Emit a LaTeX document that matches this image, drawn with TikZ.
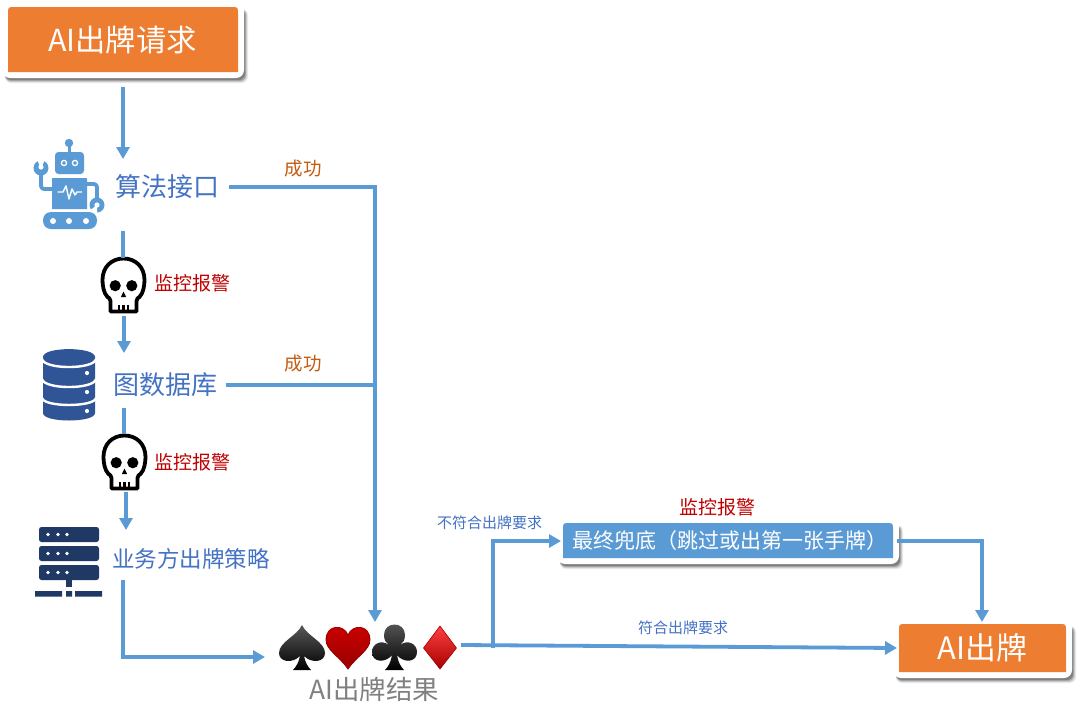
\documentclass[tikz,border=0pt]{standalone}
\usepackage{fontspec}
\setmainfont{Noto Sans CJK SC}
\usetikzlibrary{arrows.meta}
\definecolor{flowblue}{HTML}{5B9BD5}
\definecolor{txtblue}{HTML}{4472C4}
\definecolor{alarmred}{HTML}{C00000}
\definecolor{okorange}{HTML}{C55A11}
\definecolor{boxorange}{HTML}{ED7D31}
\definecolor{dbblue}{HTML}{2F5597}
\definecolor{srvblue}{HTML}{1F3864}
\newcommand{\cardbase}[5]{%
  \foreach \s/\o in {4/0.08,3/0.12,2/0.18,1/0.24}{
    \fill[black,opacity=\o,rounded corners=6] (#1-3,#2+2) rectangle (#3+7+\s-1,#4+7+\s);
  }
  \fill[white,rounded corners=8] (#1-6,#2-6) rectangle (#3+6,#4+6);
  \fill[#5] (#1,#4) -- (#3,#4) -- (#3,#2+7) .. controls (#3,#2) .. (#3-7,#2)
     -- (#1+7,#2) .. controls (#1,#2) .. (#1,#2+7) -- cycle;
}
\tikzset{
  x=1pt,y=-1pt,
  flow/.style={draw=flowblue,line width=3.8pt},
  flowarrow/.style={flow,-{Triangle[width=13pt,length=12pt]}},
  lbl/.style={inner sep=0pt,font=\fontsize{#1}{#1}\selectfont},
  stage/.style={lbl=#1,text=txtblue},
  alarm/.style={lbl=19,text=alarmred},
  okay/.style={lbl=18.5,text=okorange},
  skullpic/.pic={
    \path[draw=black,fill=white,line width=3.8pt,line join=round]
      (-13,26.5) -- (-13,16) .. controls (-13,13) and (-15,13) .. (-16,12)
      .. controls (-20,8) and (-21,0) .. (-21,-5)
      .. controls (-21,-18) and (-12,-26.5) .. (0,-26.5)
      .. controls (12,-26.5) and (21,-18) .. (21,-5)
      .. controls (21,0) and (20,8) .. (16,12)
      .. controls (15,13) and (13,13) .. (13,16) -- (13,26.5) -- cycle;
    \fill[black] (-8.3,0.7) circle (5.6) (8.3,0.7) circle (5.6);
    \fill[black] (0,6.5) -- (2.6,12) -- (-2.6,12) -- cycle;
    \draw[black,line width=2.2pt] (-4.5,20) -- (-4.5,27) (0,20) -- (0,27) (4.5,20) -- (4.5,27);
  },
}
\begin{document}
\begin{tikzpicture}
\useasboundingbox (0,0) rectangle (1080,705);
\fill[white] (0,0) rectangle (1080,705);

% boxes
\cardbase{8}{7}{238}{72}{boxorange}
\cardbase{563}{523}{893}{558}{flowblue}
\cardbase{899}{624}{1066}{672}{boxorange}
\node[lbl=30.3,text=white] (req) at (122.5,40) {AI出牌请求};
\node[lbl=21,text=white,anchor=west] (fallback) at (572,541) {最终兜底（跳过或出第一张手牌）};
\node[lbl=30.8,text=white] (play) at (982.5,648) {AI出牌};

% labels
\node[stage=26] (algo) at (167,187) {算法接口};
\node[stage=26] (graph) at (165,385) {图数据库};
\node[stage=22.5] (biz) at (191,559) {业务方出牌策略};
\node[alarm] (alarmA) at (192.5,283.5) {监控报警};
\node[alarm] (alarmB) at (192.5,462.5) {监控报警};
\node[alarm] (alarmC) at (717,507) {监控报警};
\node[okay] (okA) at (303,168.5) {成功};
\node[okay] (okB) at (303,363.5) {成功};
\node[lbl=15,text=txtblue] (noMatch) at (489.5,523) {不符合出牌要求};
\node[lbl=15,text=txtblue] (match) at (683,628) {符合出牌要求};
\node[lbl=26.4,text=black!50] (result) at (374.5,689) {AI出牌结果};

% robot icon
\begin{scope}[flowblue]
  \fill (69,143) circle (4.2);
  \fill (67.7,145) rectangle (70.7,153);
  \fill[rounded corners=3.5] (55,152) rectangle (84,174);
  \fill[rounded corners=0.5] (52,178) rectangle (87,209);
  \fill[rounded corners=8] (43,212) rectangle (97,229);
  \draw[line width=3.8pt,line join=round,rounded corners=3] (52,189) -- (41,189) -- (41,172);
  \draw[line width=3.8pt,line join=round,rounded corners=3] (87,184) -- (97,184) -- (97,200);
  \fill (41,168) circle (7.5);
  \fill (97,205) circle (7.5);
  \fill[white] (41,169) -- (37,159) -- (45,159) -- cycle;
  \fill[white] (41,167) circle (2.6);
  \fill[white] (97,205) -- (89,211) -- (97,214) -- cycle;
  \fill[white] (97,205) circle (2.6);
  \draw[white,line width=1.3pt] (64,163) circle (2.6) (75,163) circle (2.6);
  \fill[white] (53,221) circle (3) (69,221) circle (3) (86,221) circle (3);
  \draw[white,line width=1.4pt,line join=round] (57.5,192) -- (63,192) -- (66,186) -- (69,199) -- (72,189) -- (75,195) -- (77,192) -- (82,192);
\end{scope}

% database icon
\begin{scope}[dbblue]
  \fill (43,357) .. controls (43,346.5) and (95,346.5) .. (95,357) -- (95,413)
     .. controls (95,423) and (43,423) .. (43,413) -- cycle;
  \foreach \t/\b in {359/369.7,379/389.7,398/407.3}{
    \draw[white,line width=2.4pt] (42,\t) .. controls (44,\b) and (94,\b) .. (96,\t);
  }
  \fill[white] (87,373) circle (2.1) (87,392) circle (2.1) (87,411) circle (2.1);
\end{scope}

% server icon
\begin{scope}[srvblue]
  \foreach \t in {527,546,565}{
    \fill[rounded corners=2.5] (39,\t) rectangle (99,\t+15);
    \fill[white] (48,\t+7.5) circle (1.9) (58,\t+7.5) circle (1.9) (67,\t+7.5) circle (1.9);
  }
  \fill (66,579) rectangle (72,587);
  \fill (35,591) rectangle (62,596.5) (66,591) rectangle (72,596.5) (75,591) rectangle (102,596.5);
\end{scope}

% skulls
\pic at (123.5,285) {skullpic};
\pic at (124.5,462) {skullpic};

% suits
\shade[top color=black!65,bottom color=black]
  (302,625) .. controls (307,636) and (325,642) .. (325,653)
  .. controls (325,662) and (312,664) .. (304,656)
  .. controls (305,662) and (308,667) .. (311,670) -- (293,670)
  .. controls (296,667) and (299,662) .. (300,656)
  .. controls (292,664) and (279,662) .. (279,653)
  .. controls (279,642) and (297,636) .. (302,625) -- cycle;
\shade[top color=red!80!black,bottom color=red!60!black,draw=red!60!black,line width=0.8pt]
  (348,669) .. controls (340,657) and (326,650) .. (326,640)
  .. controls (326,624) and (344,624) .. (348,635)
  .. controls (352,624) and (370,624) .. (370,640)
  .. controls (370,650) and (356,657) .. (348,669) -- cycle;
\shade[top color=black!65,bottom color=black]
  (384,635) .. controls (384,621) and (405,621) .. (405,635)
  .. controls (405,640) and (403,643) .. (400,645)
  .. controls (408,639) and (417,644) .. (417,652)
  .. controls (417,663) and (403,663) .. (397,655)
  .. controls (398,662) and (401,667) .. (404,670) -- (385,670)
  .. controls (388,667) and (391,662) .. (392,655)
  .. controls (386,663) and (372,663) .. (372,652)
  .. controls (372,644) and (381,639) .. (389,645)
  .. controls (386,643) and (384,640) .. (384,635) -- cycle;
\shade[top color=red!75,bottom color=red!65!black,draw=red!65!black,line width=0.6pt]
  (440,626) -- (456.5,648) -- (440,669) -- (423.5,648) -- cycle;

% connector ends
\coordinate (reqOut) at (123,87);
\coordinate (algoIn) at (123,159);
\coordinate (algoDown) at (123,231);
\coordinate (skullAIn) at (123,258);
\coordinate (skullAOut) at (124,316);
\coordinate (graphIn) at (124,353);
\coordinate (graphDown) at (124,408);
\coordinate (skullBIn) at (124,434);
\coordinate (skullBOut) at (126,492);
\coordinate (bizIn) at (126,530);
\coordinate (bizDown) at (123,580);
\coordinate (bizCorner) at (123,657);
\coordinate (cardsWest) at (265,657);
\coordinate (algoOut) at (229,187);
\coordinate (graphOut) at (226,385);
\coordinate (busCorner) at (375,187);
\coordinate (busJoin) at (375,385);
\coordinate (cardsNorth) at (375,622);
\coordinate (cardsEast) at (461,645);
\coordinate (branch) at (493,648);
\coordinate (branchTop) at (493,541);
\coordinate (fallbackIn) at (561,541);
\coordinate (fallbackOut) at (897,541);
\coordinate (fallbackCorner) at (982,541);
\coordinate (playNorth) at (982,622);
\coordinate (playWest) at (897,648);

% connectors
\draw[flowarrow] (reqOut) -- (algoIn);
\draw[flow] (algoDown) -- (skullAIn);
\draw[flowarrow] (skullAOut) -- (graphIn);
\draw[flow] (graphDown) -- (skullBIn);
\draw[flowarrow] (skullBOut) -- (bizIn);
\draw[flowarrow,line join=miter] (bizDown) -- (bizCorner) -- (cardsWest);
\draw[flowarrow,line join=miter] (algoOut) -- (busCorner) -- (cardsNorth);
\draw[flow] (graphOut) -- (busJoin);
\draw[flowarrow] (cardsEast) -- (playWest);
\draw[flowarrow,line join=miter] (branch) -- (branchTop) -- (fallbackIn);
\draw[flowarrow,line join=miter] (fallbackOut) -- (fallbackCorner) -- (playNorth);
\end{tikzpicture}
\end{document}
